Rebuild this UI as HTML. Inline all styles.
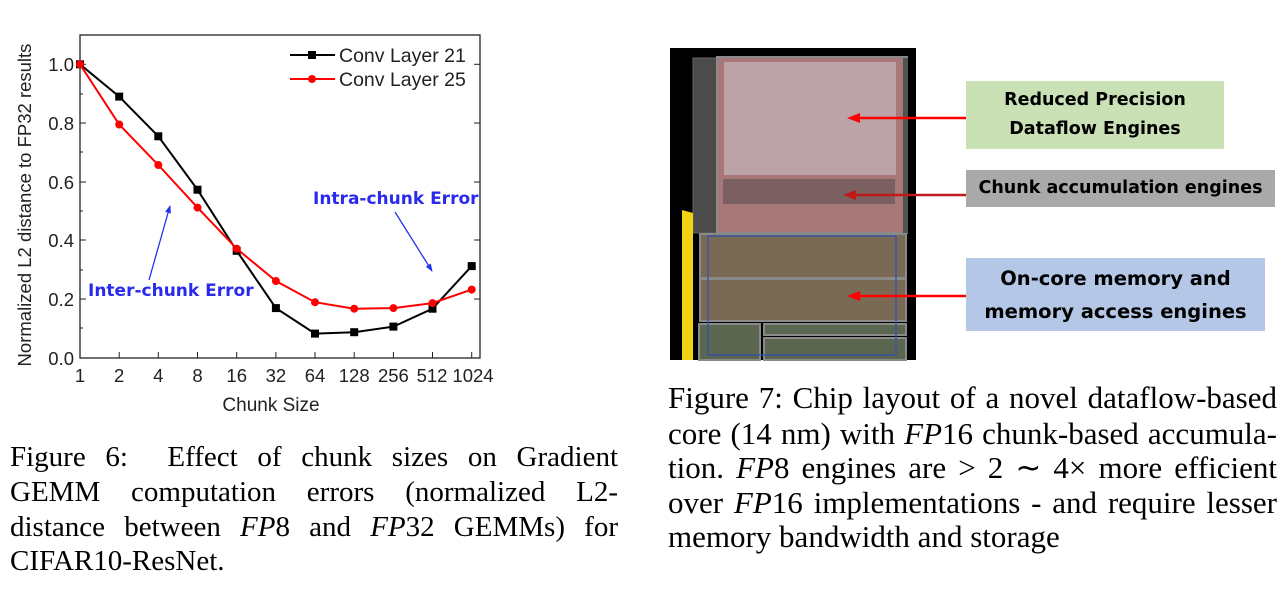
<!DOCTYPE html>
<html><head><meta charset="utf-8"><style>
body{margin:0;width:1285px;height:604px;background:#fff;position:relative;overflow:hidden;font-family:"Liberation Serif",serif;}
.ln{position:absolute;font-size:29px;line-height:34px;white-space:nowrap;color:#000;}
.b{font-size:31px;}
.j{text-align:justify;text-align-last:justify;white-space:normal;}
i{font-style:italic;}
.box{position:absolute;font-family:"DejaVu Sans","Liberation Sans",sans-serif;font-weight:bold;font-size:17.5px;text-align:center;display:flex;align-items:center;justify-content:center;line-height:29px;color:#000;}
</style></head><body>
<svg width="1285" height="604" style="position:absolute;left:0;top:0" font-family="Liberation Sans, Arial, sans-serif">
<defs>
<marker id="ab" markerWidth="8" markerHeight="8" refX="7" refY="4" orient="auto" markerUnits="userSpaceOnUse"><path d="M0,1 L8,4 L0,7z" fill="#2233ee"/></marker>
</defs>
<rect x="80" y="35" width="400" height="323" fill="none" stroke="#222" stroke-width="1.3"/>
<g stroke="#222" stroke-width="1">
<line x1="80" y1="64.3" x2="86" y2="64.3"/><line x1="80" y1="123" x2="86" y2="123"/><line x1="80" y1="182" x2="86" y2="182"/><line x1="80" y1="240" x2="86" y2="240"/><line x1="80" y1="299" x2="86" y2="299"/>
<line x1="480" y1="64.3" x2="474" y2="64.3"/><line x1="480" y1="123" x2="474" y2="123"/><line x1="480" y1="182" x2="474" y2="182"/><line x1="480" y1="240" x2="474" y2="240"/><line x1="480" y1="299" x2="474" y2="299"/>
<line x1="80" y1="94" x2="83" y2="94"/><line x1="80" y1="152" x2="83" y2="152"/><line x1="80" y1="211" x2="83" y2="211"/><line x1="80" y1="270" x2="83" y2="270"/><line x1="80" y1="328" x2="83" y2="328"/>
<line x1="119.2" y1="358" x2="119.2" y2="352"/><line x1="158.3" y1="358" x2="158.3" y2="352"/><line x1="197.5" y1="358" x2="197.5" y2="352"/><line x1="236.7" y1="358" x2="236.7" y2="352"/><line x1="275.9" y1="358" x2="275.9" y2="352"/><line x1="315" y1="358" x2="315" y2="352"/><line x1="354.2" y1="358" x2="354.2" y2="352"/><line x1="393.4" y1="358" x2="393.4" y2="352"/><line x1="432.5" y1="358" x2="432.5" y2="352"/><line x1="471.7" y1="358" x2="471.7" y2="352"/>
</g>
<g font-size="18.5" fill="#222" text-anchor="end">
<text x="74" y="71">1.0</text><text x="74" y="130">0.8</text><text x="74" y="189">0.6</text><text x="74" y="247">0.4</text><text x="74" y="306">0.2</text><text x="74" y="365">0.0</text>
</g>
<g font-size="18.5" fill="#222" text-anchor="middle">
<text x="80" y="382">1</text><text x="119.2" y="382">2</text><text x="158.3" y="382">4</text><text x="197.5" y="382">8</text><text x="236.7" y="382">16</text><text x="275.9" y="382">32</text><text x="315" y="382">64</text><text x="354.2" y="382">128</text><text x="393.4" y="382">256</text><text x="432" y="382">512</text><text x="473" y="382">1024</text>
<text x="271" y="411" font-size="19">Chunk Size</text>
<text transform="translate(31,205) rotate(-90)" font-size="18.5">Normalized L2 distance to FP32 results</text>
</g>
<polyline fill="none" stroke="#000" stroke-width="2" points="80,64.3 119.2,96.6 158.3,136.3 197.5,189.7 236.7,250.8 275.9,308.1 315,333.6 354.2,332.2 393.4,326.6 432.5,308.7 471.7,266.1"/>
<g fill="#000">
<rect x="76" y="60.3" width="8" height="8"/><rect x="115.2" y="92.6" width="8" height="8"/><rect x="154.3" y="132.3" width="8" height="8"/><rect x="193.5" y="185.7" width="8" height="8"/><rect x="232.7" y="246.8" width="8" height="8"/><rect x="271.9" y="304.1" width="8" height="8"/><rect x="311" y="329.6" width="8" height="8"/><rect x="350.2" y="328.2" width="8" height="8"/><rect x="389.4" y="322.6" width="8" height="8"/><rect x="428.5" y="304.7" width="8" height="8"/><rect x="467.7" y="262.1" width="8" height="8"/>
</g>
<polyline fill="none" stroke="#f00" stroke-width="2" points="80,64.3 119.2,124.5 158.3,165 197.5,207.6 236.7,248.7 275.9,281 315,302.2 354.2,308.7 393.4,308.1 432.5,303.1 471.7,289.6"/>
<g fill="#f00">
<circle cx="80" cy="64.3" r="4"/><circle cx="119.2" cy="124.5" r="4"/><circle cx="158.3" cy="165" r="4"/><circle cx="197.5" cy="207.6" r="4"/><circle cx="236.7" cy="248.7" r="4"/><circle cx="275.9" cy="281" r="4"/><circle cx="315" cy="302.2" r="4"/><circle cx="354.2" cy="308.7" r="4"/><circle cx="393.4" cy="308.1" r="4"/><circle cx="432.5" cy="303.1" r="4"/><circle cx="471.7" cy="289.6" r="4"/>
</g>
<line x1="290" y1="55" x2="335" y2="55" stroke="#000" stroke-width="2"/><rect x="308" y="51" width="8" height="8"/>
<text x="339" y="62" font-size="19.5" fill="#222">Conv Layer 21</text>
<line x1="290" y1="79" x2="335" y2="79" stroke="#f00" stroke-width="2"/><circle cx="312" cy="79" r="4" fill="#f00"/>
<text x="339" y="86" font-size="19.5" fill="#222">Conv Layer 25</text>
<text x="313" y="204" font-size="17" font-weight="bold" fill="#2a2aee" font-family="DejaVu Sans, sans-serif">Intra-chunk Error</text>
<text x="88" y="296" font-size="17" font-weight="bold" fill="#2a2aee" font-family="DejaVu Sans, sans-serif">Inter-chunk Error</text>
<line x1="395" y1="212" x2="432" y2="271" stroke="#2233ee" stroke-width="1.3" marker-end="url(#ab)"/>
<line x1="149" y1="280" x2="170" y2="206" stroke="#2233ee" stroke-width="1.3" marker-end="url(#ab)"/>

<rect x="670" y="48" width="246" height="312" fill="#000"/>
<rect x="693" y="58" width="24" height="175" fill="#4b4b4b" stroke="#666" stroke-width="1"/>
<rect x="717" y="57" width="190" height="176" fill="#a87878" stroke="#8a8a8a" stroke-width="2"/>
<rect x="724" y="62" width="172" height="113" fill="#bca3a8"/>
<rect x="723" y="179" width="172" height="25" fill="#7a6060"/>
<rect x="903" y="58" width="5" height="175" fill="#4d5550"/>
<polygon points="682,210 693,213 693,360 682,360" fill="#f2d214"/>
<rect x="700" y="234" width="206" height="44" fill="#7a6a55" stroke="#8a8a8a" stroke-width="2"/>
<rect x="700" y="279" width="206" height="42" fill="#7a6a55" stroke="#8a8a8a" stroke-width="2"/>
<rect x="699" y="324" width="61" height="36" fill="#5a6650" stroke="#8a8a8a" stroke-width="2"/>
<rect x="764" y="324" width="142" height="11" fill="#5a6650" stroke="#8a8a8a" stroke-width="2"/>
<rect x="764" y="338" width="142" height="22" fill="#5a6650" stroke="#8a8a8a" stroke-width="2"/>
<rect x="708" y="236" width="188" height="119" fill="none" stroke="#3050b0" stroke-width="1.3"/>
<line x1="966" y1="118" x2="858" y2="118" stroke="#f00" stroke-width="2.5"/><polygon points="847,118 860,113 860,123" fill="#f00"/>
<line x1="966" y1="195" x2="855" y2="195" stroke="#c01818" stroke-width="2.5"/><polygon points="843,195 856,190 856,200" fill="#c01818"/>
<line x1="966" y1="296" x2="858" y2="296" stroke="#f00" stroke-width="2.5"/><polygon points="847,296 860,291 860,301" fill="#f00"/>
</svg>
<div class="box" style="left:966px;top:81px;width:258px;height:68px;background:#c9e1b5;">Reduced Precision<br>Dataflow Engines</div>
<div class="box" style="left:966px;top:170px;width:309px;height:37px;background:#a9a9a9;">Chunk accumulation engines</div>
<div class="box" style="left:966px;top:258px;width:299px;height:73px;background:#b4c7e7;font-size:19.5px;line-height:33px;">On-core memory and<br>memory access engines</div>

<div class="ln j" style="left:10px;top:440px;width:608px;">Figure 6:&nbsp; Effect of chunk sizes on Gradient</div>
<div class="ln j" style="left:10px;top:475px;width:608px;">GEMM computation errors (normalized L2-</div>
<div class="ln j" style="left:10px;top:510px;width:608px;">distance between <i>FP</i>8 and <i>FP</i>32 GEMMs) for</div>
<div class="ln" style="left:10px;top:544px;">CIFAR10-ResNet.</div>

<div class="ln j b" style="left:668px;top:381px;width:609px;">Figure 7: Chip layout of a novel dataflow-based</div>
<div class="ln j b" style="left:668px;top:417px;width:609px;">core (14 nm) with <i>FP</i>16 chunk-based accumula-</div>
<div class="ln j b" style="left:668px;top:451px;width:609px;">tion. <i>FP</i>8 engines are &gt; 2 ∼ 4× more efficient</div>
<div class="ln j b" style="left:668px;top:486px;width:609px;">over <i>FP</i>16 implementations - and require lesser</div>
<div class="ln b" style="left:668px;top:520px;">memory bandwidth and storage</div>
</body></html>
